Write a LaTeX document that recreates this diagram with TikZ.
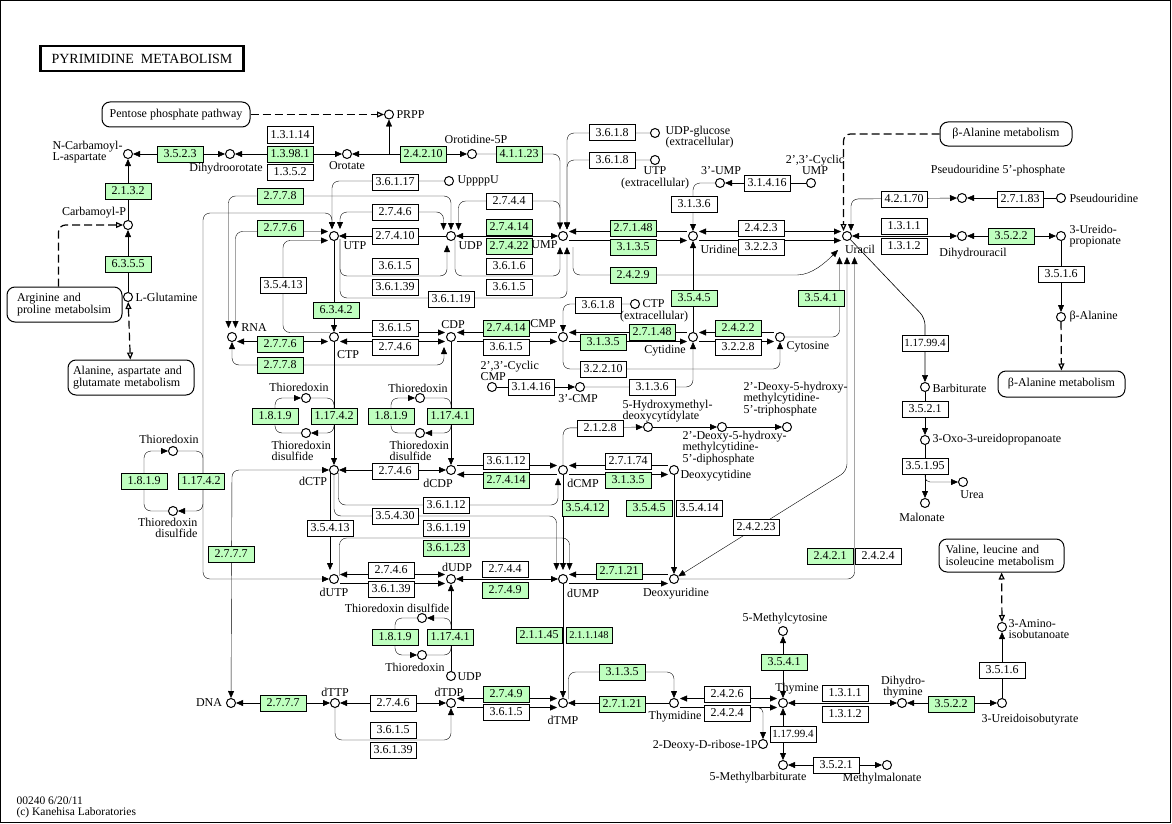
\documentclass[tikz,border=0pt]{standalone}
\usepackage{fontspec}
\setmainfont{Liberation Serif}
\usetikzlibrary{arrows.meta,backgrounds}
\definecolor{kgreen}{RGB}{191,255,191}
\begin{document}
\begin{tikzpicture}[x=1pt,y=-1pt,line width=1.1pt,
  every node/.style={font=\fontsize{12}{11.5}\selectfont},
  enz/.style={draw, fill=white, minimum width=46pt, minimum height=16pt, inner sep=0pt, line width=1pt},
  genz/.style={enz, fill=kgreen},
  cpd/.style={circle, draw, fill=white, minimum size=9pt, inner sep=0pt, line width=1pt},
  lbl/.style={inner sep=0pt},
  pw/.style={draw, rounded corners=8pt, line width=1pt, inner sep=0pt},
  >={Triangle[length=7pt,width=6pt]},
  oa/.style={arrows={-Triangle[open,length=7pt,width=6pt]}},
  oao/.style={arrows={Triangle[open,length=7pt,width=6pt]-Triangle[open,length=7pt,width=6pt]}},
  dsh/.style={dash pattern=on 8pt off 4pt, line width=1.2pt},
]
\useasboundingbox (0,0) rectangle (1172,824);
\draw[line width=1.2pt] (0.8,0.8) rectangle (1170.6,822.6);

% title and pathway boxes
\node[draw, line width=2.5pt, minimum width=203pt, minimum height=25pt, inner sep=0pt, font=\fontsize{14}{14}\selectfont] (title) at (142,58.5) {PYRIMIDINE\ \ METABOLISM};
\node[pw, minimum width=148pt, minimum height=25pt] (ppp) at (176,114.5) {Pentose phosphate pathway};
\node[pw, minimum width=115pt, minimum height=35pt, align=left, text width=95pt] (arg) at (64.5,304.5) {Arginine and\\proline metabolsim};
\node[pw, minimum width=126pt, minimum height=35pt, align=left, text width=116pt] (ala) at (131,377.5) {Alanine, aspartate and\\glutamate metabolism};
\node[pw, minimum width=132pt, minimum height=24pt] (balaa) at (1006,134) {β-Alanine metabolism};
\node[pw, minimum width=127pt, minimum height=26pt] (balab) at (1061.5,384) {β-Alanine metabolism};
\node[pw, minimum width=125pt, minimum height=33pt, align=left, text width=112pt] (val) at (1001.5,555.5) {Valine, leucine and\\isoleucine metabolism};

% compounds
\node[cpd] (ncarb) at (128,154) {};
\node[cpd] (dho) at (230,154) {};
\node[cpd] (oro) at (347,154) {};
\node[cpd] (prpp) at (389,114.5) {};
\node[cpd] (omp) at (472,154) {};
\node[cpd] (carbp) at (128,225) {};
\node[cpd] (gln) at (128,297) {};
\node[cpd] (utp) at (334,236) {};
\node[cpd] (udp) at (451,236) {};
\node[cpd] (ump) at (563,236) {};
\node[cpd] (uppppu) at (449,181) {};
\node[cpd] (udpglc) at (655,133) {};
\node[cpd] (utpex) at (655,160) {};
\node[cpd] (ump3) at (720,183) {};
\node[cpd] (cump) at (811,183) {};
\node[cpd] (uridine) at (693,236) {};
\node[cpd] (uracil) at (847,236) {};
\node[cpd] (psi5p) at (962,198) {};
\node[cpd] (psi) at (1061,198) {};
\node[cpd] (dhu) at (962,236) {};
\node[cpd] (urp) at (1061,236) {};
\node[cpd] (bala) at (1061,317) {};
\node[cpd] (barb) at (925,387) {};
\node[cpd] (oxo) at (925,440) {};
\node[cpd] (malon) at (925,503) {};
\node[cpd] (urea) at (963,482) {};
\node[cpd] (rna) at (232,337) {};
\node[cpd] (ctp) at (334,337) {};
\node[cpd] (cdp) at (451,337) {};
\node[cpd] (cmp) at (563,337) {};
\node[cpd] (ctpex) at (635,304) {};
\node[cpd] (cytidine) at (693,337) {};
\node[cpd] (cytosine) at (780,337) {};
\node[cpd] (ccmp) at (492,387) {};
\node[cpd] (cmp3) at (580,387) {};
\node[cpd] (trxa) at (173,451) {};
\node[cpd] (trxsa) at (173,511) {};
\node[cpd] (trxb) at (306,398) {};
\node[cpd] (trxsb) at (306,433) {};
\node[cpd] (trxc) at (420,398) {};
\node[cpd] (trxsc) at (420,433) {};
\node[cpd] (dctp) at (334,470) {};
\node[cpd] (dcdp) at (451,470) {};
\node[cpd] (dcmp) at (563,470) {};
\node[cpd] (dcyt) at (674,470) {};
\node[cpd] (hmdcmp) at (648,427) {};
\node[cpd] (hmdcdp) at (722,427) {};
\node[cpd] (hmdctp) at (787,427) {};
\node[cpd] (dutp) at (334,579) {};
\node[cpd] (dudp) at (451,579) {};
\node[cpd] (dump) at (563,579) {};
\node[cpd] (durd) at (674,579) {};
\node[cpd] (trxsd) at (422,618) {};
\node[cpd] (trxd) at (422,655) {};
\node[cpd] (udpb) at (451,676) {};
\node[cpd] (dna) at (231,703) {};
\node[cpd] (dttp) at (335,703) {};
\node[cpd] (dtdp) at (451,703) {};
\node[cpd] (dtmp) at (563,703) {};
\node[cpd] (thymidine) at (674,703) {};
\node[cpd] (dr1p) at (763,744) {};
\node[cpd] (mcyt) at (783,631) {};
\node[cpd] (thymine) at (783,703) {};
\node[cpd] (mbarb) at (783,765) {};
\node[cpd] (mmal) at (887,765) {};
\node[cpd] (dht) at (902,703) {};
\node[cpd] (uib) at (1002,703) {};
\node[cpd] (aib) at (1002,627) {};

% enzymes
\node[genz] (a1) at (180,154) {3.5.2.3};
\node[enz] (a2) at (290,135) {1.3.1.14};
\node[genz] (a3) at (290,154) {1.3.98.1};
\node[enz] (a4) at (290,172) {1.3.5.2};
\node[genz] (a5) at (423,154) {2.4.2.10};
\node[genz] (a6) at (519,154) {4.1.1.23};
\node[genz] (a7) at (128,191) {2.1.3.2};
\node[genz] (a8) at (128,264) {6.3.5.5};
\node[genz] (b1) at (280,196) {2.7.7.8};
\node[genz] (b2) at (280,228) {2.7.7.6};
\node[enz] (b3) at (395,182) {3.6.1.17};
\node[enz] (b4) at (395,212) {2.7.4.6};
\node[enz] (b5) at (395,236) {2.7.4.10};
\node[enz] (b6) at (509,201) {2.7.4.4};
\node[genz] (b7) at (509,227) {2.7.4.14};
\node[genz] (b8) at (509,246) {2.7.4.22};
\node[enz] (b9) at (395,266) {3.6.1.5};
\node[enz] (b10) at (395,287) {3.6.1.39};
\node[enz] (b11) at (509,266) {3.6.1.6};
\node[enz] (b12) at (509,287) {3.6.1.5};
\node[enz] (b13) at (451,299) {3.6.1.19};
\node[enz] (b14) at (283,285) {3.5.4.13};
\node[genz] (b15) at (336,310) {6.3.4.2};
\node[enz] (c1) at (612,133) {3.6.1.8};
\node[enz] (c2) at (612,160) {3.6.1.8};
\node[enz] (c3) at (694,204) {3.1.3.6};
\node[enz] (c4) at (767,183) {3.1.4.16};
\node[genz] (c5) at (633,228) {2.7.1.48};
\node[genz] (c6) at (633,247) {3.1.3.5};
\node[enz] (c7) at (761,228) {2.4.2.3};
\node[enz] (c8) at (761,247) {3.2.2.3};
\node[genz] (c9) at (633,275) {2.4.2.9};
\node[enz] (d1) at (904,199) {4.2.1.70};
\node[enz] (d2) at (1020,199) {2.7.1.83};
\node[enz] (d3) at (904,226) {1.3.1.1};
\node[enz] (d4) at (904,246) {1.3.1.2};
\node[genz] (d5) at (1011,236) {3.5.2.2};
\node[enz] (d6) at (1061,274) {3.5.1.6};
\node[enz, font=\fontsize{11}{11}\selectfont] (d7) at (925,343) {1.17.99.4};
\node[enz] (d8) at (925,409) {3.5.2.1};
\node[enz] (d9) at (925,466) {3.5.1.95};
\node[genz] (e1) at (275,416) {1.8.1.9};
\node[genz] (e2) at (334,416) {1.17.4.2};
\node[genz] (e3) at (391,416) {1.8.1.9};
\node[genz] (e4) at (450,416) {1.17.4.1};
\node[genz] (e5) at (144,481) {1.8.1.9};
\node[genz] (e6) at (201,481) {1.17.4.2};
\node[genz] (e7) at (231,554) {2.7.7.7};
\node[genz] (e8) at (280,344) {2.7.7.6};
\node[genz] (e9) at (280,365) {2.7.7.8};
\node[enz] (e10) at (395,328) {3.6.1.5};
\node[enz] (e11) at (395,347) {2.7.4.6};
\node[genz] (e12) at (506,328) {2.7.4.14};
\node[enz] (e13) at (506,347) {3.6.1.5};
\node[enz] (e14) at (598,305) {3.6.1.8};
\node[genz] (e15) at (652,332) {2.7.1.48};
\node[genz] (e16) at (603,342) {3.1.3.5};
\node[genz] (e17) at (694,298) {3.5.4.5};
\node[genz] (e18) at (821,298) {3.5.4.1};
\node[genz] (e19) at (738,328) {2.4.2.2};
\node[enz] (e20) at (738,347) {3.2.2.8};
\node[enz] (e21) at (603,369) {3.2.2.10};
\node[enz] (e22) at (652,387) {3.1.3.6};
\node[enz] (e23) at (531,387) {3.1.4.16};
\node[enz] (f1) at (395,471) {2.7.4.6};
\node[enz] (f2) at (506,461) {3.6.1.12};
\node[genz] (f3) at (506,480) {2.7.4.14};
\node[enz] (f4) at (628,461) {2.7.1.74};
\node[genz] (f5) at (628,480) {3.1.3.5};
\node[enz] (f6) at (600,428) {2.1.2.8};
\node[enz] (f7) at (446,505) {3.6.1.12};
\node[enz] (f8) at (395,516) {3.5.4.30};
\node[enz] (f9) at (446,528) {3.6.1.19};
\node[genz] (f10) at (446,548) {3.6.1.23};
\node[enz] (f11) at (330,528) {3.5.4.13};
\node[genz] (f12) at (585,508) {3.5.4.12};
\node[genz] (f13) at (649,508) {3.5.4.5};
\node[enz] (f14) at (699,508) {3.5.4.14};
\node[enz] (f15) at (756,527) {2.4.2.23};
\node[genz] (f16) at (830,556) {2.4.2.1};
\node[enz] (f17) at (878,556) {2.4.2.4};
\node[enz] (g1) at (391,570) {2.7.4.6};
\node[enz] (g2) at (391,589) {3.6.1.39};
\node[enz] (g3) at (505,569) {2.7.4.4};
\node[genz] (g4) at (505,590) {2.7.4.9};
\node[genz] (g5) at (539,635) {2.1.1.45};
\node[genz, font=\fontsize{10.5}{11}\selectfont] (g6) at (589,635) {2.1.1.148};
\node[genz] (g7) at (619,571) {2.7.1.21};
\node[genz] (g8) at (395,637) {1.8.1.9};
\node[genz] (g9) at (450,637) {1.17.4.1};
\node[genz] (h1) at (283,703) {2.7.7.7};
\node[enz] (h2) at (393,703) {2.7.4.6};
\node[enz] (h3) at (393,730) {3.6.1.5};
\node[enz] (h4) at (393,750) {3.6.1.39};
\node[genz] (h5) at (506,694) {2.7.4.9};
\node[enz] (h6) at (506,712) {3.6.1.5};
\node[genz] (h7) at (622,672) {3.1.3.5};
\node[genz] (h8) at (622,704) {2.7.1.21};
\node[enz] (h9) at (727,694) {2.4.2.6};
\node[enz] (h10) at (727,713) {2.4.2.4};
\node[genz] (h11) at (784,662) {3.5.4.1};
\node[enz, font=\fontsize{11}{11}\selectfont] (h12) at (793,734) {1.17.99.4};
\node[enz] (h13) at (836,765) {3.5.2.1};
\node[enz] (h14) at (845,693) {1.3.1.1};
\node[enz] (h15) at (845,714) {1.3.1.2};
\node[genz] (h16) at (951,704) {3.5.2.2};
\node[enz] (h17) at (1002,670) {3.5.1.6};

% labels
\node[lbl, anchor=west, align=left] (lncarb) at (52,152) {N-Carbamoyl-\\L-aspartate};
\node[lbl] (ldho) at (226,169) {Dihydroorotate};
\node[lbl] (loro) at (347,166) {Orotate};
\node[lbl, anchor=west] (lprpp) at (396,115) {PRPP};
\node[lbl] (lomp) at (476,139) {Orotidine-5P};
\node[lbl] (lcarbp) at (94,213) {Carbamoyl-P};
\node[lbl, anchor=west] (lgln) at (135,297) {L-Glutamine};
\node[lbl, anchor=west] (luppppu) at (457,181) {UppppU};
\node[lbl, anchor=west] (lutp) at (343,246) {UTP};
\node[lbl, anchor=west] (ludp) at (458,246) {UDP};
\node[lbl, anchor=east] (lump) at (558,245) {UMP};
\node[lbl, anchor=west, align=left] (ludpglc) at (665,137) {UDP-glucose\\(extracellular)};
\node[lbl, align=center] (lutpex) at (655,178) {UTP\\(extracellular)};
\node[lbl] (lump3) at (721,171) {3'-UMP};
\node[lbl, align=center] (lcump) at (815,165) {2',3'-Cyclic\\UMP};
\node[lbl, anchor=west] (luridine) at (700,249) {Uridine};
\node[lbl] (luracil) at (860,249) {Uracil};
\node[lbl] (lpsi5p) at (998,171) {Pseudouridine 5'-phosphate};
\node[lbl, anchor=west] (lpsi) at (1069,198) {Pseudouridine};
\node[lbl] (ldhu) at (973,254) {Dihydrouracil};
\node[lbl, anchor=west, align=left] (lurp) at (1069,236) {3-Ureido-\\propionate};
\node[lbl, anchor=west] (lbala) at (1069,317) {β-Alanine};
\node[lbl, anchor=west] (lbarb) at (932,388) {Barbiturate};
\node[lbl, anchor=west] (loxo) at (932,440) {3-Oxo-3-ureidopropanoate};
\node[lbl] (lmalon) at (922,517) {Malonate};
\node[lbl] (lurea) at (972,495) {Urea};
\node[lbl] (lrna) at (254,328) {RNA};
\node[lbl] (lctp) at (348,355) {CTP};
\node[lbl] (lcdp) at (453,325) {CDP};
\node[lbl] (lcmp) at (543,324) {CMP};
\node[lbl, anchor=west] (lctpex) at (642,304) {CTP};
\node[lbl] (lctpex2) at (654,317) {(extracellular)};
\node[lbl] (lcytidine) at (665,351) {Cytidine};
\node[lbl, anchor=west] (lcytosine) at (786,347) {Cytosine};
\node[lbl, anchor=west, align=left] (lccmp) at (480,371) {2',3'-Cyclic\\CMP};
\node[lbl] (lcmp3) at (578,399) {3'-CMP};
\node[lbl] (ltrxa) at (169,439) {Thioredoxin};
\node[lbl, anchor=east, align=right] (ltrxsa) at (198,528) {Thioredoxin\\disulfide};
\node[lbl] (ltrxb) at (299,387) {Thioredoxin};
\node[lbl, anchor=west, align=left] (ltrxsb) at (271,451) {Thioredoxin\\disulfide};
\node[lbl] (ltrxc) at (418,388) {Thioredoxin};
\node[lbl, anchor=west, align=left] (ltrxsc) at (389,451) {Thioredoxin\\disulfide};
\node[lbl] (ldctp) at (313,481) {dCTP};
\node[lbl] (ldcdp) at (438,483) {dCDP};
\node[lbl] (ldcmp) at (583,483) {dCMP};
\node[lbl, anchor=west] (ldcyt) at (680,476) {Deoxycytidine};
\node[lbl, anchor=west, align=left] (lhmdcmp) at (622,411) {5-Hydroxymethyl-\\deoxycytidylate};
\node[lbl, anchor=west, align=left] (lhmdcdp) at (682,448) {2'-Deoxy-5-hydroxy-\\methylcytidine-\\5'-diphosphate};
\node[lbl, anchor=west, align=left] (lhmdctp) at (743,399) {2'-Deoxy-5-hydroxy-\\methylcytidine-\\5'-triphosphate};
\node[lbl] (ldutp) at (334,592) {dUTP};
\node[lbl] (ldudp) at (457,567) {dUDP};
\node[lbl] (ldump) at (583,593) {dUMP};
\node[lbl] (ldurd) at (676,594) {Deoxyuridine};
\node[lbl] (ltrxsd) at (397,608) {Thioredoxin disulfide};
\node[lbl] (ltrxd) at (415,667) {Thioredoxin};
\node[lbl, anchor=west] (ludpb) at (457,677) {UDP};
\node[lbl] (ldna) at (209,703) {DNA};
\node[lbl] (ldttp) at (335,692) {dTTP};
\node[lbl] (ldtdp) at (449,692) {dTDP};
\node[lbl] (ldtmp) at (563,720) {dTMP};
\node[lbl] (lthymidine) at (675,717) {Thymidine};
\node[lbl, anchor=east] (ldr1p) at (758,746) {2-Deoxy-D-ribose-1P};
\node[lbl] (lmcyt) at (785,619) {5-Methylcytosine};
\node[lbl] (lthymine) at (797,689) {Thymine};
\node[lbl] (lmbarb) at (758,778) {5-Methylbarbiturate};
\node[lbl] (lmmal) at (882,779) {Methylmalonate};
\node[lbl, align=center] (ldht) at (903,687) {Dihydro-\\thymine};
\node[lbl] (luib) at (1030,720) {3-Ureidoisobutyrate};
\node[lbl, anchor=west, align=left] (laib) at (1008,629) {3-Amino-\\isobutanoate};
\node[lbl, anchor=west, align=left, font=\fontsize{11.5}{11}\selectfont] (lfoot) at (16,807) {00240 6/20/11\\(c) Kanehisa Laboratories};

% arrow tip points
\coordinate (utpT1) at (332,229);
\coordinate (utpT2) at (340,229);
\coordinate (udpT1) at (443.5,230);
\coordinate (udpT2) at (451,230);
\coordinate (udpT3) at (458.5,230);
\coordinate (umpT1) at (560,229.5);
\coordinate (umpT2) at (567,229.5);
\coordinate (umpB1) at (560,247);
\coordinate (umpB2) at (567,247);
\coordinate (udpB) at (447,245);
\coordinate (rnaT1) at (228.5,328);
\coordinate (rnaT2) at (235.5,328);
\coordinate (uraT1) at (843.5,231);
\coordinate (uraT2) at (851,231);
\coordinate (uraB1) at (839.5,257);
\coordinate (uraB2) at (847,257);
\coordinate (uraB3) at (854.5,257);
\coordinate (dumpT1) at (556.5,570);
\coordinate (dumpT2) at (563,570);
\coordinate (dumpT3) at (569.5,570);
\coordinate (dcmpB) at (558,478);
\coordinate (dutpT) at (330,570);
\coordinate (cdpB) at (444,347);

\begin{scope}[on background layer, rounded corners=7pt]
\fill[white, sharp corners] (0,0) rectangle (1172,824);
% top left
\draw[dsh, oa] (ppp) -- (prpp);
\draw[<->] (ncarb) -- (dho);
\draw[<->] (dho) -- (oro);
\draw[<->] (oro) -- (omp);
\draw[->] (prpp |- oro) -- (prpp);
\draw[->] (omp) -- (umpT1 |- omp) -- (umpT1);
\draw[->] (carbp) -- (ncarb);
\draw[->] (gln) -- (carbp);
\draw[dsh, oa] ([xshift=-6pt]arg.north) |- (carbp);
\draw[dsh, oao] (gln) -- (ala);
% UTP / UDP / UMP
\draw[->] (uppppu) -- (utpT1 |- uppppu) -- (utpT1);
\draw[->] (b1.east) -- (udpT2 |- b1.east) -- (udpT2);
\draw[->] (b1.west) -- (rnaT1 |- b1.west) -- (rnaT1);
\draw[<->] (rnaT2) |- (328,231.5);
\draw[<->] (utpT1) -- (332,213) -- (203,213) -- (203,579) -- (dutp);
\draw[<->] (utpT2) -- (340,212) -- (443.5,212) -- (udpT1);
\draw[<-] (utp) -- (udp);
\draw[<->] (udp) -- (ump);
\draw[->] (umpT1) -- (560,201) -- (458.5,201) -- (udpT3);
\draw[->] (340,239) -- (340,276) -- (447,276) -- (udpB);
\draw[->] (455,240) -- (455,276) -- (560,276) -- (umpB1);
\draw[->] (340,239) -- (340,298) -- (567,298) -- (umpB2);
\draw[->] (udpglc) -- (umpT2 |- udpglc) -- (umpT2);
\draw[->] (utpex) -- (umpT2 |- utpex) -- (umpT2);
\draw[->] (utp) -- (ctp);
\draw[->] (330,332.5) -- (283,332.5) -- (283,240.5) -- (328,240.5);
% CTP / CDP / CMP
\draw[->] (339,332.5) -- (445,332.5);
\draw[<->] (340,341.5) -- (445,341.5);
\draw[<->] (237,341.5) -- (328,341.5);
\draw[<->] (rna) -- (232,365) -- (444,365) -- (cdpB);
\draw[<-] (457,332.5) -- (557,332.5);
\draw[->] (457,341.5) -- (557,341.5);
\draw[->] (ctpex) -- (cmp |- ctpex) -- (cmp);
\draw[<-] (569,332.5) -- (687,332.5);
\draw[->] (569,341.5) -- (687,341.5);
\draw[->] (cmp) -- (563,369) -- (780,369) -- (cytosine);
\draw[->] (cmp3) -- (693,387) -- (cytidine);
\draw[->] (ccmp) -- (cmp3);
\draw[->] (cytidine) -- (uridine);
\draw[<-] (699,332.5) -- (774,332.5);
\draw[->] (699,341.5) -- (774,341.5);
\draw[->] (cytosine) -- (839.5,337) -- (uraB1);
\draw[->] (573,247) -- (573,275) -- (790,275) .. controls (812,275) and (826,262) .. (838,250);
% uridine / uracil
\draw[->] (ump3) -- (693,183) -- (uridine);
\draw[->] (cump) -- (ump3);
\draw[<-] (569,231.5) -- (687,231.5);
\draw[->] (569,240.5) -- (687,240.5);
\draw[<->] (699,231.5) -- (841,231.5);
\draw[->] (699,240.5) -- (841,240.5);
\draw[dsh, oa] (balaa.west) -- (uraT1 |- balaa.west) -- (uraT1);
\draw[<->] (uraT2) -- (851,199) -- (psi5p);
\draw[->] (psi) -- (psi5p);
\draw[<->] (uracil) -- (dhu);
\draw[<->] (dhu) -- (urp);
\draw[->] (urp) -- (bala);
\draw[dsh, oa] (bala) -- (balab);
\draw[->, line width=0.6pt] (uracil) -- (925,318) -- (barb);
\draw[->] (barb) -- (oxo);
\draw[->] (oxo) -- (malon);
\draw[->, rounded corners=5pt] (d9.south) |- (urea);
\draw[<->] (uraB2) -- (847,471) -- (durd);
\draw[->] (durd) -- (854.5,579) -- (uraB3);
% deoxy cytidine part
\draw[<->] (dctp) -- (dcdp);
\draw[->] (457,465.5) -- (557,465.5);
\draw[<-] (457,474.5) -- (557,474.5);
\draw[<-] (569,465.5) -- (668,465.5);
\draw[->] (569,474.5) -- (668,474.5);
\draw[->] (dcmp) -- (563,428) -- (hmdcmp);
\draw[->] (hmdcmp) -- (hmdcdp);
\draw[->] (hmdcdp) -- (hmdctp);
\draw[->] (dcmp) -- (dumpT2);
\draw[->] (dcyt) -- (durd);
\draw[<-] (569,574.5) -- (668,574.5);
\draw[->] (569,583.5) -- (668,583.5);
\draw[->] (cdp) -- (dcdp);
\draw[->] (ctp) -- (dctp);
% thioredoxin cycles
\draw[->] (trxsa) -- (144,511) -- (144,451) -- (trxa);
\draw[->] (trxa) -- (203,451) -- (203,511) -- (trxsa);
\draw[->] (trxsb) -- (275,433) -- (275,398) -- (trxb);
\draw[->] (trxb) -- (334,398) -- (334,433) -- (trxsb);
\draw[->] (trxsc) -- (391,433) -- (391,398) -- (trxc);
\draw[->] (trxc) -- (451,398) -- (451,433) -- (trxsc);
\draw[->] (trxsd) -- (395,618) -- (395,655) -- (trxd);
\draw[->] (trxd) -- (451,655) -- (451,618) -- (trxsd);
\draw[->] (udpb) -- (dudp);
% dCTP branches
\draw[<->] (dctp) -- (232,470) -- (dna);
\draw[->] (338.5,473) -- (338.5,505) -- (558,505) -- (dcmpB);
\draw[->] (dctp.south) -- (334,516) -- (556.5,516) -- (dumpT1);
\draw[->] (330,472.5) -- (dutpT);
\draw[->] (339.5,576) -- (339.5,538) -- (569.5,538) -- (dumpT3);
\draw[<->] (340,574.5) -- (445,574.5);
\draw[->] (340,583.5) -- (445,583.5);
\draw[<->] (dudp) -- (dump);
\draw[->] (dump) -- (dtmp);
% thymidine part
\draw[->] (568.5,699) -- (568.5,672) -- (thymidine |- 0,672) -- (thymidine);
\draw[->] (thymidine) -- (dtmp);
\draw[<->] (457,698.5) -- (557,698.5);
\draw[->] (457,707.5) -- (557,707.5);
\draw[<->] (dttp) -- (dtdp);
\draw[->] (dttp) -- (335,740) -- (451,740) -- (dtdp);
\draw[<->] (dna) -- (dttp);
\draw[<->] (680,698.5) -- (777,698.5);
\draw[->] (680,707.5) -- (777,707.5);
\draw[->, rounded corners=5pt] (751,707.5) -| (dr1p);
\draw[<->] (mcyt) -- (thymine);
\draw[<->] (thymine) -- (mbarb);
\draw[<->] (mbarb) -- (mmal);
\draw[<->] (thymine) -- (dht);
\draw[<->] (dht) -- (uib);
\draw[->] (uib) -- (aib);
\draw[dsh, oao] (aib) -- (val);
\end{scope}
\end{tikzpicture}
\end{document}
